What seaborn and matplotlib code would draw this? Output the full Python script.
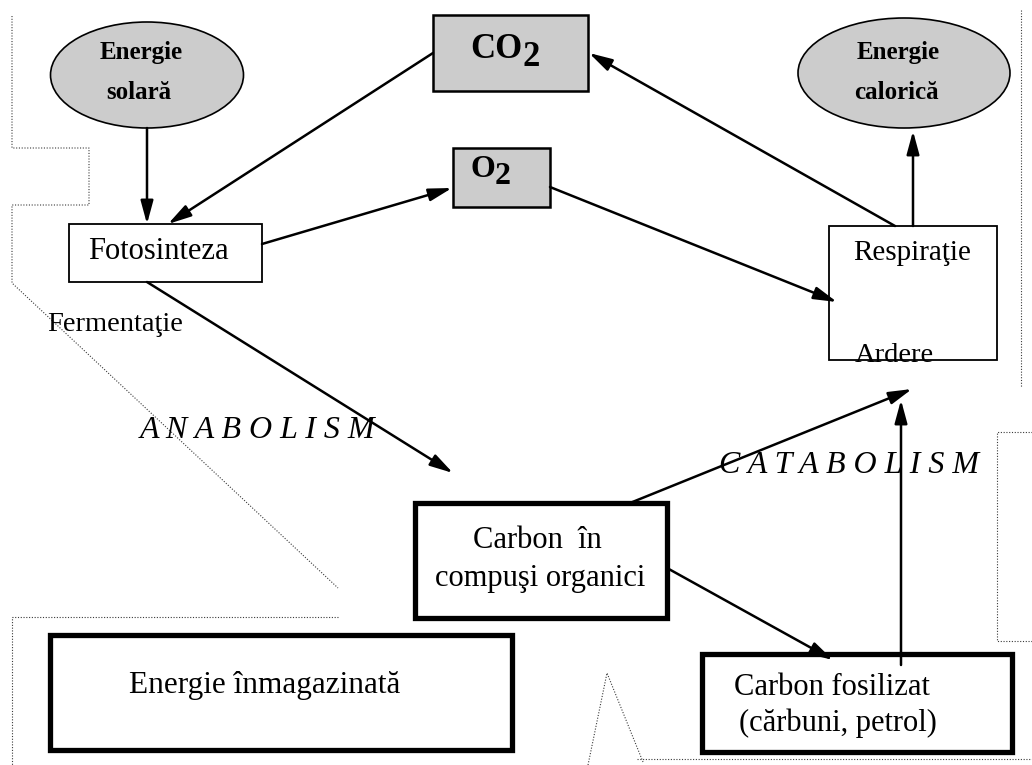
import matplotlib
matplotlib.use("Agg")
import matplotlib.pyplot as plt
from matplotlib.patches import Rectangle, Ellipse, FancyArrowPatch
import seaborn as sns

sns.set_theme(style="white")
plt.rcParams['font.family'] = ['Liberation Serif', 'DejaVu Serif']
plt.rcParams['text.color'] = 'black'

W, H = 1032, 765
GRAY = '#cccccc'

# energy ellipses
ell_top = ["Energie", "Energie"]
ell_bottom = ["solară", "calorică"]
ell_cx = [147, 904]
ell_cy = [75, 73]
ell_w = [193, 212]
ell_h = [106, 110]

# boxes of the cycle
box_names = ["Fotosinteza", "CO2", "O2", "Respiratie", "Carbon organic",
             "Energie inmagazinata", "Carbon fosilizat"]
box_x0 = [69, 433, 453, 829, 415, 50, 702]
box_y0 = [224, 15, 148, 226, 503, 635, 654]
box_x1 = [262, 588, 550, 997, 667, 512, 1012]
box_y1 = [282, 91, 207, 360, 618, 750, 752]
box_fill = ['white', GRAY, GRAY, 'white', 'white', 'white', 'white']
box_lw = [1.3, 1.8, 1.8, 1.3, 3.8, 3.8, 3.8]

# flows (start -> end)
arrow_x0 = [147, 433, 262, 550, 895, 913, 147, 630, 901, 667]
arrow_y0 = [128, 53, 244, 187, 226, 226, 282, 503, 665, 568]
arrow_x1 = [147, 168, 452, 837, 589, 913, 453, 912, 901, 833]
arrow_y1 = [224, 224, 188, 302, 53, 131, 473, 389, 400, 660]

# dotted background outlines
dotted_paths = [
    ([12, 12, 89, 89, 12, 12, 338], [16, 148, 148, 205, 205, 283, 588]),
    ([338, 12, 12], [617, 617, 765]),
    ([1021, 1021], [10, 387]),
    ([1032, 997, 997, 1032], [432, 432, 641, 641]),
    ([588, 607, 643], [765, 673, 762]),
    ([637, 1032], [759, 759]),
]

# free text labels: text, x, baseline y, ha, size, style
labels = ["Fotosinteza", "Respiraţie", "Ardere", "Fermentaţie",
          "A N A B O L I S M", "C A T A B O L I S M",
          "Carbon  în", "compuşi organici", "Energie înmagazinată",
          "Carbon fosilizat", "(cărbuni, petrol)"]
label_x = [158, 853, 855, 47, 140, 719, 537, 540, 265, 734, 739]
label_y = [259, 260, 362, 331, 438, 473, 548, 586, 693, 695, 731]
label_ha = ['center', 'left', 'left', 'left', 'left', 'left',
            'center', 'center', 'center', 'left', 'left']
label_size = [22, 21, 20.5, 20.5, 23, 23, 22, 22, 22.5, 22, 22]
label_style = ['normal'] * 4 + ['italic', 'italic'] + ['normal'] * 5


fig = plt.figure(figsize=(W / 100, H / 100), dpi=100)
ax = fig.add_axes([0, 0, 1, 1])
ax.set_xlim(0, W)
ax.set_ylim(H, 0)
ax.axis('off')

for xs, ys in dotted_paths:
    ax.plot(xs, ys, color='#3a3a3a', lw=0.8, linestyle=(0, (1, 1.5)), zorder=1)

for cx, cy, w, h, t1, t2 in zip(ell_cx, ell_cy, ell_w, ell_h, ell_top, ell_bottom):
    ax.add_patch(Ellipse((cx, cy), w, h, facecolor=GRAY, edgecolor='black',
                         lw=1.2, zorder=2))
    ax.text(cx - 6, 59, t1, ha='center', va='baseline', fontsize=18,
            fontweight='bold', zorder=5)
    ax.text(cx - 8, 99, t2, ha='center', va='baseline', fontsize=18,
            fontweight='bold', zorder=5)

for x0, y0, x1, y1, fc, lw in zip(box_x0, box_y0, box_x1, box_y1, box_fill, box_lw):
    ax.add_patch(Rectangle((x0, y0), x1 - x0, y1 - y0, facecolor=fc,
                           edgecolor='black', lw=lw, zorder=2))

# chemical formulas with lowered "2"
ax.text(523, 58, "CO", ha='right', va='baseline', fontsize=25, fontweight='bold', zorder=5)
ax.text(523, 66, "2", ha='left', va='baseline', fontsize=25, fontweight='bold', zorder=5)
ax.text(495, 177, "O", ha='right', va='baseline', fontsize=23, fontweight='bold', zorder=5)
ax.text(495, 184, "2", ha='left', va='baseline', fontsize=23, fontweight='bold', zorder=5)

for x0, y0, x1, y1 in zip(arrow_x0, arrow_y0, arrow_x1, arrow_y1):
    ax.add_patch(FancyArrowPatch((x0, y0), (x1, y1),
                                 arrowstyle='-|>,head_length=14,head_width=3.8',
                                 mutation_scale=1, shrinkA=0, shrinkB=0,
                                 color='black', lw=1.8, zorder=4))

for t, x, y, ha, s, st in zip(labels, label_x, label_y, label_ha, label_size, label_style):
    ax.text(x, y, t, ha=ha, va='baseline', fontsize=s, style=st, zorder=3)

fig.savefig('out.png', dpi=100, facecolor='white')
